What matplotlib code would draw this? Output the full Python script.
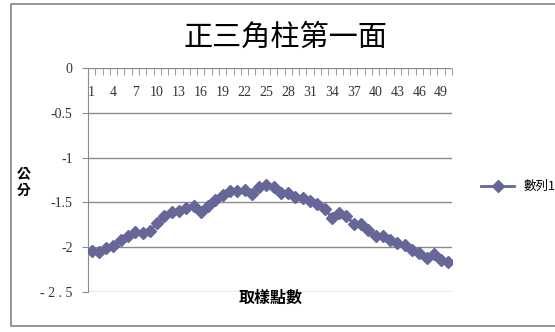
import numpy as np
import matplotlib.pyplot as plt
from matplotlib.lines import Line2D

# sample index and measured height (cm) on face 1 of the triangular prism
points = np.arange(1, 51)
depth = [-2.04, -2.05, -2.01, -1.99, -1.92, -1.88, -1.83, -1.84, -1.82, -1.73,
         -1.65, -1.61, -1.60, -1.56, -1.54, -1.61, -1.54, -1.47, -1.42, -1.37,
         -1.37, -1.36, -1.41, -1.33, -1.31, -1.33, -1.40, -1.40, -1.44, -1.45,
         -1.48, -1.52, -1.57, -1.67, -1.62, -1.65, -1.74, -1.74, -1.81, -1.88,
         -1.88, -1.92, -1.95, -1.98, -2.03, -2.06, -2.12, -2.08, -2.14, -2.17]
yticks = [0, -0.5, -1, -1.5, -2, -2.5]
ylabels = ['0', '-0.5', '-1', '-1.5', '-2', '- 2 . 5']
xlabels = points[::3]

cjk = ['Noto Sans CJK TC', 'DejaVu Sans']
serif = 'Liberation Serif'
line_col = '#666699'
grid_col = '#8c8c8c'

fig = plt.figure(figsize=(5.55, 3.32), dpi=100)
# chart frame: top, left and bottom edges (open on the right)
fl, fr, fb, ft = 11 / 555, 1.0, 6 / 332, 1 - 4 / 332
fig.add_artist(Line2D([fr, fl, fl, fr], [ft, ft, fb, fb],
                      transform=fig.transFigure, color='#8c8c8c', lw=1.3))

ax = fig.add_axes([88 / 555, 1 - 292 / 332, 364 / 555, 224 / 332])
ax.plot(points, depth, color=line_col, lw=2, marker='D', ms=6.5,
        markeredgecolor=line_col, label='數列1', zorder=3)

ax.set_xlim(0.5, 50.5)
ax.set_ylim(-2.5, 0)
ax.set_yticks(yticks)
ax.set_yticklabels(ylabels, fontfamily=serif, fontsize=10, color='#333333')
ax.tick_params(axis='y', length=4, color=grid_col, pad=7)
for y in yticks:
    ax.axhline(y, color=grid_col, lw=1, zorder=1)

# category axis sits at y=0 (top), ticks between categories, labels inside
ax.xaxis.tick_top()
ax.set_xticks(xlabels)
ax.set_xticklabels([str(v) for v in xlabels], fontfamily=serif, fontsize=10,
                   color='#333333')
ax.set_xticks(np.arange(0.5, 51, 1), minor=True)
ax.tick_params(axis='x', which='major', length=0, pad=-22)
ax.tick_params(axis='x', which='minor', direction='in', length=5,
               color=grid_col, top=True, bottom=False)

for s in ['right', 'bottom', 'top']:
    ax.spines[s].set_visible(False)
ax.spines['left'].set_color(grid_col)

fig.text(285 / 555, 1 - 38 / 332, '正三角柱第一面', ha='center', va='center',
         fontsize=21, family=cjk)
fig.text(24 / 555, 1 - 182 / 332, '公\n分', ha='center', va='center',
         fontsize=10, fontweight='bold', family=cjk, linespacing=1.4)
fig.text(271 / 555, 1 - 298 / 332, '取樣點數', ha='center', va='center',
         fontsize=11.5, fontweight='bold', family=cjk)

leg = ax.legend(loc='center left', bbox_to_anchor=(1.05, 0.47), frameon=False,
                handlelength=2.6, prop={'family': cjk, 'size': 9})

fig.savefig('out.png', dpi=100)
